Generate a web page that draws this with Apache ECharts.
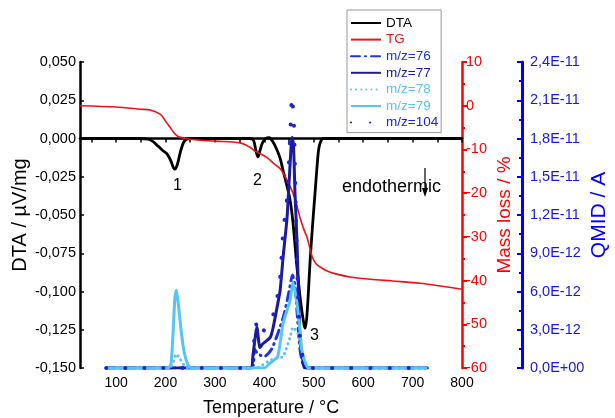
<!DOCTYPE html>
<html>
<head>
<meta charset="utf-8">
<script src="https://cdn.jsdelivr.net/npm/echarts@6/dist/echarts.min.js"></script>
<style>
html,body{margin:0;padding:0;background:#fff;}
#c{width:615px;height:418px;}
</style>
</head>
<body>
<div id="c"></div>
<script>
// ---- data (temperature in °C) ----
const dtaT = [27,100,150,165,175,185,195,203,210,216,219,224,230,236,242,250,300,370,378,383,387,391,396,403,410,417,425,432,438,445,452,458,466,474,480,483,487,493,498,503,507,510,514,519,600,700,800];
const dtaV = [0,0,0,-0.0005,-0.002,-0.005,-0.008,-0.010,-0.014,-0.019,-0.020,-0.017,-0.009,-0.003,-0.0005,0,0,0,-0.001,-0.008,-0.012,-0.008,-0.003,0,0.0005,-0.002,-0.007,-0.013,-0.021,-0.030,-0.040,-0.055,-0.084,-0.108,-0.121,-0.124,-0.112,-0.078,-0.055,-0.034,-0.017,-0.007,-0.002,0,0,0,0];

const tgT = [27,100,150,169,190,200,209,218,225,230,240,260,300,351,371,380,392,405,420,432,438,448,458,465,472,479,486,492,497,505,513,525,539,574,614,660,715,760,800];
const tgV = [0,-0.3,-0.8,-1.0,-2.0,-3.5,-4.9,-6.3,-7.0,-7.2,-7.5,-7.8,-8.1,-8.5,-9.5,-10.3,-11.0,-11.8,-13.3,-14.4,-15.4,-17.5,-20.0,-22.5,-25.5,-28.0,-30.0,-32.5,-34.6,-36.2,-36.9,-37.7,-38.3,-39.2,-39.7,-40.1,-40.6,-41.3,-42.0];

// QMID values in units of 1e-12 A
const mz76T = [80,375,380,385,392,400,415,430,440,450,457,462,467,472,478,485,730];
const mz76V = [0,0,1.5,1.2,1.0,0.9,1.5,3.0,4.2,6.0,7.3,6.5,4.0,1.5,0.3,0,0];

const mz77T = [80,372,377,385,391,397,412,418,426,432,438,446,451,456,459,462,466,469,472,478,482,730];
const mz77V = [0,0,1.0,3.2,1.6,1.9,2.4,3.2,4.8,6.1,8.7,11.8,15.2,18.1,17.5,13.8,10.0,6.1,2.4,0.6,0,0];

const mz78T = [80,208,216,222,228,236,245,385,395,412,427,438,452,458,468,476,483,490,730];
const mz78V = [0,0,0.5,1.1,0.8,0.3,0,0,0.2,0.6,0.8,0.9,2.4,3.2,2.7,1.2,0.4,0,0];

const mz79T = [80,205,211,215,219,222,226,232,238,245,252,400,412,427,438,452,458,466,472,476,483,490,730];
const mz79V = [0,0,0.3,2.5,5.5,6.1,5.0,2.8,1.2,0.3,0,0,0.4,0.9,3.5,5.3,6.7,5.1,3.0,1.4,0.4,0,0];

const mz104T = [80,372,378,383,390,400,415,426,432,438,446,452,456,460,464,468,472,478,485,495,730];
const mz104V = [0,0,1.5,3.5,2.5,3.0,3.8,5.5,7.1,10.6,13.4,18.0,21.3,19.0,12.0,6.0,2.5,0.8,0.2,0,0];

const xLabelTicks = [100,200,300,400,500,600,700,800];
const xMinorTicks = [50,100,150,200,250,300,350,400,450,500,550,600,650,700,750,800];

const pair = (t, v) => t.map((x, i) => [x, v[i]]);

const FONT = "'Liberation Sans', Arial, sans-serif";
const C76 = '#1f35e0', C77 = '#1a1a9e', C78 = '#5cc2f0', C79 = '#55c5f5', C104 = '#1c22d6';

const chart = echarts.init(document.getElementById('c'), null, {renderer: 'canvas'});

function fmtMS(v) {
  if (Math.abs(v) < 1e-9) return '0,0E+00';
  const s = (v * 1e-12).toExponential(1);
  const [m, e] = s.split('e');
  const n = parseInt(e, 10);
  const es = (n < 0 ? '-' : '+') + String(Math.abs(n)).padStart(2, '0');
  return m.replace('.', ',') + 'E' + es;
}

chart.setOption({
  animation: false,
  backgroundColor: '#fff',
  textStyle: {fontFamily: FONT},
  grid: {left: 80, right: 153, top: 62, bottom: 50, containLabel: false, outerBoundsMode: 'none'},
  legend: {
    orient: 'vertical', left: 347, top: 10,
    itemWidth: 30, itemHeight: 14, itemGap: 2.6,
    padding: [6, 3, 3, 3],
    borderColor: '#999', borderWidth: 1,
    itemStyle: {opacity: 0},
    textStyle: {fontSize: 13.5, fontFamily: FONT},
    data: [
      {name: 'DTA', textStyle: {color: '#000'}},
      {name: 'TG', textStyle: {color: '#e8141a'}},
      {name: 'm/z=76', textStyle: {color: C76}},
      {name: 'm/z=77', textStyle: {color: C77}},
      {name: 'm/z=78', textStyle: {color: C78}},
      {name: 'm/z=79', textStyle: {color: C79}},
      {name: 'm/z=104', textStyle: {color: C104}}
    ]
  },
  xAxis: {
    type: 'value', min: 27, max: 800,
    name: 'Temperature / °C', nameLocation: 'middle', nameGap: 31,
    nameTextStyle: {fontSize: 18, color: '#000', fontFamily: FONT},
    axisLine: {show: true, lineStyle: {color: '#000', width: 2.5}},
    axisTick: {show: true, inside: false, length: 4, lineStyle: {color: '#000', width: 1.5}, customValues: xMinorTicks},
    axisLabel: {fontSize: 14, color: '#000', margin: 8, customValues: xLabelTicks},
    splitLine: {show: false}
  },
  yAxis: [
    {
      type: 'value', min: -0.15, max: 0.05, interval: 0.025, position: 'left',
      name: 'DTA / µV/mg', nameLocation: 'middle', nameGap: 50, nameRotate: 90, nameMoveOverlap: false,
      nameTextStyle: {fontSize: 20, color: '#000', fontFamily: FONT},
      axisLine: {show: true, lineStyle: {color: '#000', width: 2.5}},
      axisTick: {show: true, inside: true, length: 4, lineStyle: {color: '#000', width: 1.5}},
      axisLabel: {fontSize: 14.5, color: '#000', margin: 4,
        formatter: v => (Math.abs(v) < 1e-9 ? 0 : v).toFixed(3).replace('.', ',')},
      splitLine: {show: false}
    },
    {
      type: 'value', min: -60, max: 10, interval: 10, position: 'right', offset: 0,
      name: 'Mass loss / %', nameLocation: 'middle', nameGap: 33, nameRotate: 90, nameMoveOverlap: false,
      nameTextStyle: {fontSize: 19, color: '#f00', fontFamily: FONT},
      axisLine: {show: true, lineStyle: {color: '#f00', width: 2.5}},
      axisTick: {show: true, inside: false, length: 5, lineStyle: {color: '#f00', width: 2}},
      minorTick: {show: true, splitNumber: 2, length: 3, lineStyle: {color: '#f00', width: 2}},
      axisLabel: {fontSize: 14.5, color: '#f00', margin: 4},
      splitLine: {show: false}
    },
    {
      type: 'value', min: 0, max: 24, interval: 3, position: 'right', offset: 60,
      name: 'QMID / A', nameLocation: 'middle', nameGap: 67, nameRotate: 90, nameMoveOverlap: false,
      nameTextStyle: {fontSize: 21, color: '#0000ff', fontFamily: FONT},
      axisLine: {show: true, lineStyle: {color: '#0000ff', width: 3}},
      axisTick: {show: true, inside: true, length: 5, lineStyle: {color: '#0000ff', width: 2}},
      minorTick: {show: true, splitNumber: 2, length: 3, lineStyle: {color: '#0000ff', width: 2}},
      axisLabel: {fontSize: 14.5, color: '#1515ee', margin: 8, formatter: fmtMS},
      splitLine: {show: false}
    }
  ],
  series: [
    {name: 'DTA', type: 'line', yAxisIndex: 0, data: pair(dtaT, dtaV), symbol: 'none', smooth: 0.3,
      lineStyle: {color: '#000', width: 2.8}, itemStyle: {color: '#000'}},
    {name: 'TG', type: 'line', yAxisIndex: 1, data: pair(tgT, tgV), symbol: 'none', smooth: 0.3,
      lineStyle: {color: '#e8141a', width: 1.6}, itemStyle: {color: '#e8141a'}},
    {name: 'm/z=76', type: 'line', yAxisIndex: 2, data: pair(mz76T, mz76V), symbol: 'none', smooth: 0.2,
      lineStyle: {color: C76, width: 3, type: [9, 5, 1, 5], cap: 'round'}, itemStyle: {color: C76}},
    {name: 'm/z=77', type: 'line', yAxisIndex: 2, data: pair(mz77T, mz77V), symbol: 'none', smooth: 0.2,
      lineStyle: {color: C77, width: 3}, itemStyle: {color: C77}},
    {name: 'm/z=78', type: 'line', yAxisIndex: 2, data: pair(mz78T, mz78V), symbol: 'none', smooth: 0.2,
      lineStyle: {color: C78, width: 3, type: [0.1, 5], cap: 'round'}, itemStyle: {color: C78}},
    {name: 'm/z=79', type: 'line', yAxisIndex: 2, data: pair(mz79T, mz79V), symbol: 'none', smooth: 0.2,
      lineStyle: {color: C79, width: 3}, itemStyle: {color: C79}},
    {name: 'm/z=104', type: 'line', yAxisIndex: 2, data: pair(mz104T, mz104V), symbol: 'none', smooth: 0.2,
      lineStyle: {color: C104, width: 4, type: [0.1, 19], cap: 'round'}, itemStyle: {color: C104}}
  ],
  graphic: [
    {type: 'text', left: 173, top: 178, style: {text: '1', font: '16px ' + FONT, fill: '#000'}},
    {type: 'text', left: 253, top: 173, style: {text: '2', font: '16px ' + FONT, fill: '#000'}},
    {type: 'text', left: 310, top: 328, style: {text: '3', font: '16px ' + FONT, fill: '#000'}},
    {type: 'text', left: 342, top: 178, style: {text: 'endothermic', font: '18px ' + FONT, fill: '#000'}},
    {type: 'line', shape: {x1: 425, y1: 168, x2: 425, y2: 194}, style: {stroke: '#000', lineWidth: 1.2}},
    {type: 'polygon', shape: {points: [[422, 188], [428, 188], [425, 197]]}, style: {fill: '#000'}}
  ]
});
</script>
</body>
</html>
